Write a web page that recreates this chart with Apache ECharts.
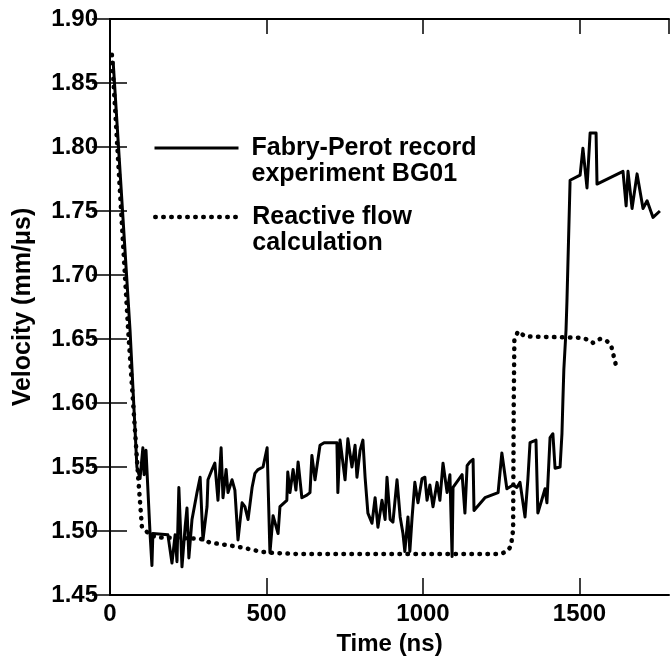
<!DOCTYPE html>
<html>
<head>
<meta charset="utf-8">
<script src="https://cdn.jsdelivr.net/npm/echarts@6/dist/echarts.min.js"></script>
<style>
  html, body { margin: 0; padding: 0; background: #fff; }
  #chart { width: 672px; height: 663px; }
</style>
</head>
<body>
<div id="chart"></div>
<script>
// Fabry-Perot record, experiment BG01 (time ns, velocity mm/us)
var expTime = [10, 64, 86, 96, 105, 109, 115, 128, 134, 137, 185, 198, 208, 214, 220, 230, 240, 246, 252, 262,
  278, 288, 297, 310, 313, 326, 335, 345, 355, 361, 371, 377, 390, 399, 409, 422, 431, 441, 454, 463,
  473, 489, 502, 511, 521, 537, 543, 565, 568, 575, 585, 594, 601, 613, 629, 639, 645, 655, 671, 684,
  709, 725, 728, 735, 751, 760, 773, 783, 789, 799, 808, 815, 824, 837, 847, 856, 869, 879, 885, 895,
  904, 917, 927, 936, 942, 952, 958, 965, 974, 984, 997, 1006, 1013, 1022, 1032, 1045, 1054, 1064, 1077, 1086,
  1093, 1096, 1125, 1134, 1141, 1150, 1160, 1163, 1198, 1240, 1252, 1268, 1288, 1300, 1310, 1326, 1335, 1342, 1361, 1367,
  1390, 1396, 1406, 1415, 1422, 1438, 1444, 1447, 1450, 1457, 1460, 1470, 1502, 1511, 1524, 1534, 1553, 1556, 1639, 1649,
  1655, 1668, 1684, 1703, 1716, 1735, 1757];
var expVel = [1.867, 1.657, 1.550, 1.541, 1.565, 1.544, 1.563, 1.498, 1.473, 1.498, 1.497, 1.475, 1.497, 1.476, 1.534, 1.472, 1.503, 1.518, 1.479, 1.509,
  1.530, 1.542, 1.493, 1.519, 1.540, 1.548, 1.553, 1.524, 1.565, 1.526, 1.548, 1.530, 1.540, 1.532, 1.493, 1.522, 1.519, 1.509, 1.534, 1.545,
  1.548, 1.550, 1.565, 1.483, 1.512, 1.498, 1.519, 1.524, 1.546, 1.530, 1.548, 1.532, 1.554, 1.526, 1.528, 1.530, 1.559, 1.540, 1.567, 1.569,
  1.569, 1.569, 1.530, 1.571, 1.540, 1.572, 1.550, 1.567, 1.542, 1.563, 1.571, 1.542, 1.514, 1.506, 1.526, 1.503, 1.524, 1.509, 1.542, 1.509,
  1.507, 1.540, 1.511, 1.498, 1.484, 1.511, 1.484, 1.510, 1.538, 1.522, 1.541, 1.542, 1.524, 1.536, 1.519, 1.538, 1.524, 1.553, 1.530, 1.544,
  1.480, 1.534, 1.544, 1.514, 1.551, 1.554, 1.556, 1.516, 1.526, 1.530, 1.561, 1.533, 1.536, 1.534, 1.538, 1.511, 1.540, 1.569, 1.571, 1.514,
  1.533, 1.522, 1.573, 1.576, 1.549, 1.550, 1.576, 1.602, 1.626, 1.657, 1.680, 1.774, 1.778, 1.799, 1.768, 1.811, 1.811, 1.771, 1.781, 1.754,
  1.781, 1.752, 1.779, 1.752, 1.758, 1.745, 1.750];

// Reactive flow calculation
var calcTime = [6, 58, 90, 102, 128, 150, 288, 319, 374, 425, 479, 511, 600, 1000, 1246, 1268, 1281, 1288, 1290, 1292,
  1304, 1326, 1502, 1534, 1543, 1565, 1585, 1601, 1610, 1617];
var calcVel = [1.872, 1.657, 1.542, 1.503, 1.497, 1.495, 1.494, 1.491, 1.489, 1.487, 1.484, 1.483, 1.482, 1.482, 1.482, 1.484, 1.488, 1.501, 1.602, 1.650,
  1.656, 1.652, 1.651, 1.649, 1.647, 1.650, 1.649, 1.645, 1.636, 1.629];

var seriesNames = ['Fabry-Perot record\nexperiment BG01', 'Reactive flow\ncalculation'];
var xTitle = 'Time (ns)';
var yTitle = 'Velocity (mm/\u03bcs)';

function pairs(xs, ys) {
  return xs.map(function (x, i) { return [x, ys[i]]; });
}

var font = 'Liberation Sans, Arial, Helvetica, sans-serif';
var lh = 26;

var chart = echarts.init(document.getElementById('chart'));

var legendText = {
  fontFamily: font, fontWeight: 'bold', fontSize: 25, color: '#000',
  lineHeight: lh, padding: [0, 0, 0, 8]
};
// leading blank line puts the first text line level with the key line
function legendFmt(name) { return '\n' + name; }

chart.setOption({
  animation: false,
  backgroundColor: '#fff',
  grid: { left: 110, right: 3, top: 19, bottom: 68 },
  legend: [
    { data: [seriesNames[0]], left: 153, top: 148 - 1.5 * lh, padding: 0,
      itemWidth: 84, itemHeight: 4, formatter: legendFmt, textStyle: legendText,
      itemStyle: { opacity: 0 }, lineStyle: { width: 3 } },
    { data: [seriesNames[1]], left: 153, top: 217 - 1.5 * lh, padding: 0,
      itemWidth: 84, itemHeight: 4, formatter: legendFmt, textStyle: legendText,
      itemStyle: { opacity: 0 }, lineStyle: { width: 4.5 } }
  ],
  xAxis: [
    {
      type: 'value', min: 0, max: 1786, interval: 500, position: 'bottom',
      name: xTitle, nameLocation: 'middle', nameGap: 37,
      nameTextStyle: { fontFamily: font, fontWeight: 'bold', fontSize: 24, color: '#000' },
      axisLine: { lineStyle: { color: '#000', width: 2 } },
      axisTick: { inside: true, length: 17, lineStyle: { color: '#000', width: 1.5 } },
      axisLabel: {
        margin: 7, showMaxLabel: false, fontFamily: font, fontWeight: 'bold', fontSize: 24, color: '#000',
        formatter: function (v) { return String(v); }
      },
      splitLine: { show: false }
    },
    {
      type: 'value', min: 0, max: 1786, interval: 500, position: 'top',
      axisLine: { lineStyle: { color: '#000', width: 2 } },
      axisTick: { inside: true, length: 15, lineStyle: { color: '#000', width: 1.5 } },
      axisLabel: { show: false },
      splitLine: { show: false }
    }
  ],
  yAxis: [
    {
      type: 'value', min: 1.45, max: 1.90, interval: 0.05, position: 'left',
      name: yTitle, nameLocation: 'middle', nameGap: 74,
      nameTextStyle: { fontFamily: font, fontWeight: 'bold', fontSize: 25, color: '#000' },
      axisLine: { show: true, lineStyle: { color: '#000', width: 2 } },
      axisTick: { show: true, inside: true, length: 17, lineStyle: { color: '#000', width: 1.5 } },
      axisLabel: {
        margin: 12, fontFamily: font, fontWeight: 'bold', fontSize: 24, color: '#000',
        formatter: function (v) { return v.toFixed(2); }
      },
      splitLine: { show: false }
    },
    {
      type: 'value', min: 1.45, max: 1.90, interval: 0.05, position: 'right',
      axisLine: { show: true, lineStyle: { color: '#000', width: 2 } },
      axisTick: { show: true, inside: true, length: 18, lineStyle: { color: '#000', width: 1.5 } },
      axisLabel: { show: false },
      splitLine: { show: false }
    }
  ],
  series: [
    {
      name: seriesNames[0], type: 'line', symbol: 'none',
      data: pairs(expTime, expVel),
      lineStyle: { color: '#000', width: 3, join: 'round' },
      itemStyle: { color: '#000' }
    },
    {
      name: seriesNames[1], type: 'line', symbol: 'none',
      data: pairs(calcTime, calcVel),
      lineStyle: { color: '#000', width: 4.5, type: [0.5, 7.5], cap: 'round', join: 'round' },
      itemStyle: { color: '#000' }
    }
  ]
});
</script>
</body>
</html>
